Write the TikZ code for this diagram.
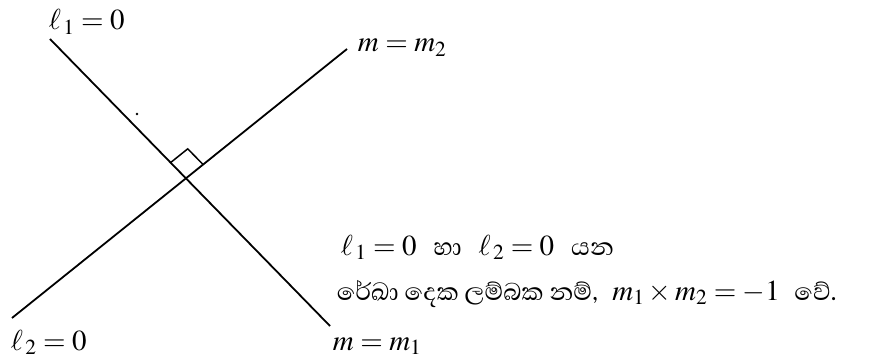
\documentclass[tikz,border=0pt]{standalone}
\usepackage{mathptmx}
\usepackage[no-math]{fontspec}
\setmainfont{Liberation Serif}
\newfontfamily\sinhala[Script=Sinhala]{Abhaya Libre}
\usetikzlibrary{calc}
\newcommand{\sintext}[1]{{\fontsize{31}{36}\selectfont\sinhala #1}}
\newcommand{\gap}{\hspace{17pt}}

\begin{document}
\begin{tikzpicture}[x=1pt, y=-1pt, line width=1.8pt, font=\fontsize{29}{34}\selectfont,
    lbl/.style={anchor=base west, inner sep=0pt}]
    \useasboundingbox (0,0) rectangle (874,363);
    % Line ends
    \coordinate (l1a) at (50,39);
    \coordinate (l1b) at (330,326);
    \coordinate (l2a) at (12,318);
    \coordinate (l2b) at (347,49);
    % The two lines
    \draw (l1a) -- (l1b);
    \draw (l2a) -- (l2b);
    % Right angle mark
    \coordinate (o) at (intersection of l1a--l1b and l2a--l2b);
    \coordinate (ra) at ($(o)!22pt!(l1a)$);
    \coordinate (rb) at ($(o)!22pt!(l2b)$);
    \draw[line width=1.5pt] (ra) -- ($(ra)+(rb)-(o)$) -- (rb);
    \node[circle, fill, inner sep=0pt, minimum size=2.6pt] (dot) at (137,114) {};
    % Labels
    \node[lbl] (l1lbl) at (48,30) {$\ell_{\,1} = 0$};
    \node[lbl] (m2lbl) at (357,52) {$m = m_2$};
    \node[lbl] (l2lbl) at (10,350) {$\ell_{\,2} = 0$};
    \node[lbl] (m1lbl) at (332,350) {$m = m_1$};
    % Statement
    \node[lbl] (txt1) at (340,255) {$\ell_{\,1} = 0$\gap\sintext{හා}\gap$\ell_{\,2} = 0$\gap\sintext{යන}};
    \node[lbl] (txt2) at (336,300) {\sintext{රේඛා දෙක ලම්බක නම්,}\enspace$m_1 \times m_2 = -1$\enspace\sintext{වේ.}};
\end{tikzpicture}
\end{document}
